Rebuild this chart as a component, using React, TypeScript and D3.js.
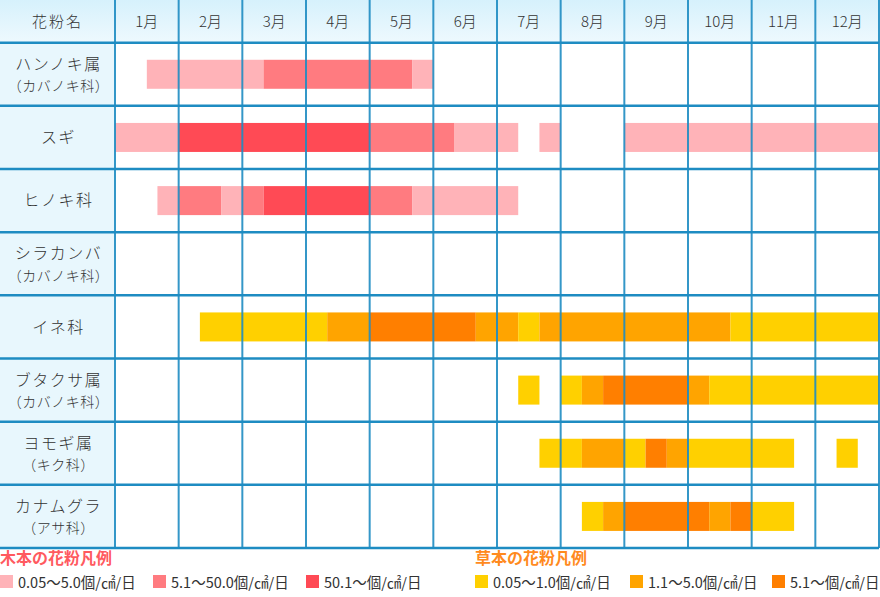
import React, { useRef, useEffect } from 'react';
import * as d3 from 'd3';

// chart values (periods in 1/6 month units, 0 = start of January)
const months = ['1月', '2月', '3月', '4月', '5月', '6月', '7月', '8月', '9月', '10月', '11月', '12月'];
const pollenNames = ['ハンノキ属', 'スギ', 'ヒノキ科', 'シラカンバ', 'イネ科', 'ブタクサ属', 'ヨモギ属', 'カナムグラ'];
const pollenFamilies = ['（カバノキ科）', '', '', '（カバノキ科）', '', '（カバノキ科）', '（キク科）', '（アサ科）'];
const pollenKinds = ['tree', 'tree', 'tree', 'tree', 'grass', 'grass', 'grass', 'grass'];

// [start, end, level]
const hannoki = [[3, 14, 0], [14, 28, 1], [28, 30, 0]];
const sugi = [[0, 6, 0], [6, 24, 2], [24, 32, 1], [32, 38, 0], [40, 42, 0], [48, 72, 0]];
const hinoki = [[4, 6, 0], [6, 10, 1], [10, 12, 0], [12, 14, 1], [14, 24, 2], [24, 28, 1], [28, 38, 0]];
const shirakanba: number[][] = [];
const ine = [[8, 20, 0], [20, 24, 1], [24, 34, 2], [34, 38, 1], [38, 40, 0], [40, 58, 1], [58, 72, 0]];
const butakusa = [[38, 40, 0], [42, 44, 0], [44, 46, 1], [46, 54, 2], [54, 56, 1], [56, 72, 0]];
const yomogi = [[40, 44, 0], [44, 48, 1], [48, 50, 0], [50, 52, 2], [52, 54, 1], [54, 64, 0], [68, 70, 0]];
const kanamugura = [[44, 46, 0], [46, 48, 1], [48, 56, 2], [56, 58, 1], [58, 60, 2], [60, 64, 0]];
const periods = [hannoki, sugi, hinoki, shirakanba, ine, butakusa, yomogi, kanamugura];

const treeLegend = ['0.05〜5.0個/㎠/日', '5.1〜50.0個/㎠/日', '50.1〜個/㎠/日'];
const grassLegend = ['0.05〜1.0個/㎠/日', '1.1〜5.0個/㎠/日', '5.1〜個/㎠/日'];

const treeColors = ['#ffb3b8', '#ff7b80', '#ff4a55'];
const grassColors = ['#ffd000', '#ffa400', '#ff7f00'];

const FONT = '"Noto Sans CJK JP", "Noto Sans", sans-serif';

const App = () => {
  const svgRef = useRef<SVGSVGElement | null>(null);

  useEffect(() => {
    if (!svgRef.current) return;
    const svg = d3.select(svgRef.current);
    svg.selectAll('*').remove();

    const left = 115;
    const right = 879;
    const headerH = 42.7;
    const bottom = 548;
    const gridColor = '#1e8cc2';

    const x = d3.scaleLinear().domain([0, 72]).range([left, right]);
    const y = d3.scaleBand<number>()
      .domain(d3.range(pollenNames.length))
      .range([headerH, bottom]);

    // backgrounds
    const grad = svg.append('defs').append('linearGradient')
      .attr('id', 'hdr').attr('x1', 0).attr('y1', 0).attr('x2', 0).attr('y2', 1);
    grad.append('stop').attr('offset', '0%').attr('stop-color', '#d6f1fc');
    grad.append('stop').attr('offset', '100%').attr('stop-color', '#eef9fe');

    svg.append('rect').attr('x', 0).attr('y', 0).attr('width', right).attr('height', headerH)
      .attr('fill', 'url(#hdr)');
    svg.append('rect').attr('x', 0).attr('y', headerH).attr('width', left).attr('height', bottom - headerH)
      .attr('fill', '#e8f7fd');

    // bars
    periods.forEach((segs, i) => {
      const colors = pollenKinds[i] === 'tree' ? treeColors : grassColors;
      const bh = 29;
      const by = y(i)! + y.bandwidth() / 2 - bh / 2;
      svg.append('g').selectAll('rect')
        .data(segs)
        .enter()
        .append('rect')
        .attr('x', d => x(d[0]))
        .attr('width', d => x(d[1]) - x(d[0]))
        .attr('y', by)
        .attr('height', bh)
        .attr('fill', d => colors[d[2]]);
    });

    // grid
    const grid = svg.append('g').attr('stroke', gridColor).attr('stroke-width', 2);
    d3.range(0, 73, 6).forEach(v => {
      grid.append('line').attr('x1', x(v)).attr('x2', x(v)).attr('y1', 0).attr('y2', bottom)
        .attr('stroke-opacity', 0.9);
    });
    [headerH, ...pollenNames.map((_, i) => y(i)! + y.bandwidth())].forEach(v => {
      grid.append('line').attr('x1', 0).attr('x2', right).attr('y1', v).attr('y2', v)
        .attr('stroke-width', 2.5);
    });

    // header text
    svg.append('text').attr('x', left / 2).attr('y', headerH / 2).attr('dy', '0.35em')
      .attr('text-anchor', 'middle').attr('font-family', FONT).attr('font-size', 15)
      .attr('font-weight', 300)
      .attr('letter-spacing', 2).attr('fill', '#333').text('花粉名');
    svg.append('g').selectAll('text')
      .data(months)
      .enter()
      .append('text')
      .attr('x', (_, i) => x(i * 6 + 3))
      .attr('y', headerH / 2)
      .attr('dy', '0.35em')
      .attr('text-anchor', 'middle')
      .attr('font-family', FONT)
      .attr('font-size', 15)
      .attr('font-weight', 300)
      .attr('fill', '#333')
      .text(d => d);

    // row labels
    pollenNames.forEach((name, i) => {
      const cy = y(i)! + y.bandwidth() / 2;
      const fam = pollenFamilies[i];
      svg.append('text')
        .attr('x', left / 2 + 1)
        .attr('y', fam ? cy - 10 : cy)
        .attr('dy', '0.35em')
        .attr('text-anchor', 'middle')
        .attr('font-family', FONT)
        .attr('font-size', 16)
        .attr('font-weight', 300)
        .attr('letter-spacing', 1.5)
        .attr('fill', '#333')
        .text(name);
      if (fam) {
        svg.append('text')
          .attr('x', left / 2 + 1)
          .attr('y', cy + 12)
          .attr('dy', '0.35em')
          .attr('text-anchor', 'middle')
          .attr('font-family', FONT)
          .attr('font-size', 14)
          .attr('font-weight', 300)
          .attr('letter-spacing', 0.5)
          .attr('fill', '#333')
          .text(fam);
      }
    });

    // legends
    const legend = (title: string, titleColor: string, labels: string[], colors: string[], x0: number, offsets: number[]) => {
      const g = svg.append('g');
      g.append('text').attr('x', x0).attr('y', 564)
        .attr('font-family', FONT).attr('font-size', 16).attr('font-weight', 'bold')
        .attr('fill', titleColor).text(title);
      labels.forEach((lab, k) => {
        g.append('rect').attr('x', x0 + offsets[k]).attr('y', 575).attr('width', 13).attr('height', 13)
          .attr('fill', colors[k]);
        g.append('text').attr('x', x0 + offsets[k] + 18).attr('y', 588)
          .attr('font-family', FONT).attr('font-size', 14.5).attr('fill', '#333').text(lab);
      });
    };
    legend('木本の花粉凡例', '#ff5a5f', treeLegend, treeColors, 0, [0, 153, 306]);
    legend('草本の花粉凡例', '#ff8a1e', grassLegend, grassColors, 475, [0, 155, 297]);
  }, []);

  return (
    <svg ref={svgRef} width={880} height={597}
      style={{ position: 'absolute', left: 0, top: 0, background: '#fff' }} />
  );
};

export default App;
